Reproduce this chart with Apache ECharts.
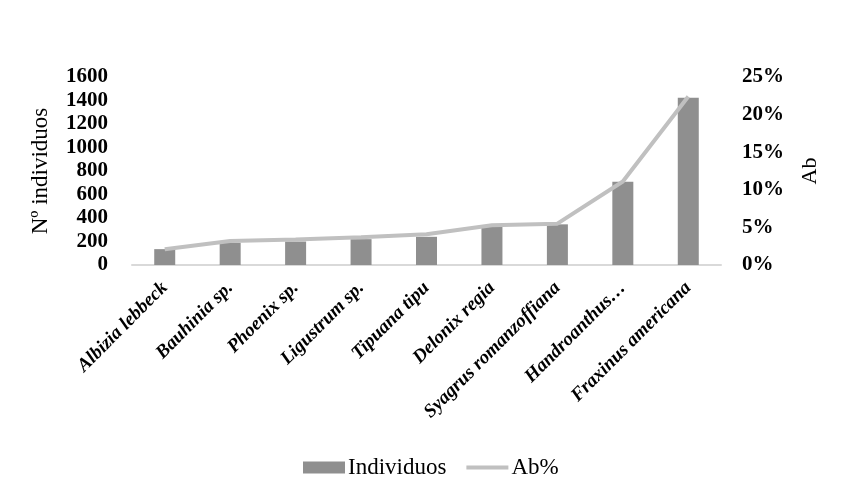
<html>
<head>
    <meta charset="utf-8">
    <title>Individuos</title>
    <script src="https://cdn.jsdelivr.net/npm/echarts@6/dist/echarts.min.js"></script>
</head>
<body style="margin:0;background:#fff;">
    <div id="main" style="width:848px;height:497px;"></div>
    <script type="text/javascript">
        // datos
        var especies = ['Albizia lebbeck', 'Bauhinia sp.', 'Phoenix sp.', 'Ligustrum sp.', 'Tipuana tipu',
            'Delonix regia', 'Syagrus romanzoffiana', 'Handroanthus…', 'Fraxinus americana'];
        var individuos = [135, 190, 200, 220, 240, 326, 346, 709, 1424];
        var abPct = [2.1, 3.2, 3.4, 3.7, 4.1, 5.3, 5.5, 11.1, 22.4];
        var ticksIzq = [0, 200, 400, 600, 800, 1000, 1200, 1400, 1600];

        var fuente = 'Liberation Serif';
        var myChart = echarts.init(document.getElementById('main'));

        var option = {
            animation: false,
            textStyle: { fontFamily: fuente, color: '#000' },
            grid: { left: 132, right: 127, top: 77, bottom: 232 },
            legend: {
                top: 451,
                left: 298,
                itemGap: 20,
                itemWidth: 42,
                itemHeight: 12,
                textStyle: { fontFamily: fuente, fontSize: 23, color: '#000', padding: [0, 0, 0, -2] },
                data: [
                    { name: 'Individuos', icon: 'rect' },
                    { name: 'Ab%', icon: 'path://M0,4 H42 V8 H0 Z M0,0 H0.01 V12 H0 Z' }
                ]
            },
            xAxis: {
                type: 'category',
                data: especies,
                axisLine: { lineStyle: { color: '#d9d9d9', width: 2 } },
                axisTick: { show: false },
                axisLabel: {
                    interval: 0,
                    rotate: 45,
                    margin: 20,
                    fontFamily: fuente,
                    fontSize: 19,
                    fontStyle: 'italic',
                    fontWeight: 'bold',
                    color: '#000'
                }
            },
            yAxis: [
                {
                    type: 'value',
                    min: ticksIzq[0],
                    max: ticksIzq[ticksIzq.length - 1],
                    interval: 200,
                    name: 'Nº individuos',
                    nameLocation: 'middle',
                    nameGap: 80,
                    nameRotate: 90,
                    nameTextStyle: { fontFamily: fuente, fontSize: 23, color: '#000' },
                    splitLine: { show: false },
                    axisLine: { show: false },
                    axisTick: { show: false },
                    axisLabel: {
                        margin: 24,
                        formatter: function (v) { return String(v); },
                        fontFamily: fuente, fontSize: 21, fontWeight: 'bold', color: '#000'
                    }
                },
                {
                    type: 'value',
                    min: 0,
                    max: 25,
                    interval: 5,
                    name: 'Ab',
                    nameLocation: 'middle',
                    nameGap: 78,
                    nameRotate: 90,
                    nameTextStyle: { fontFamily: fuente, fontSize: 22, color: '#000' },
                    splitLine: { show: false },
                    axisLine: { show: false },
                    axisTick: { show: false },
                    axisLabel: {
                        margin: 21,
                        formatter: '{value}%',
                        fontFamily: fuente, fontSize: 21, fontWeight: 'bold', color: '#000'
                    }
                }
            ],
            series: [
                {
                    name: 'Individuos',
                    type: 'bar',
                    data: individuos,
                    barWidth: 21,
                    itemStyle: { color: '#8f8f8f' }
                },
                {
                    name: 'Ab%',
                    type: 'line',
                    yAxisIndex: 1,
                    data: abPct,
                    symbol: 'none',
                    lineStyle: { color: '#c0c0c0', width: 4 },
                    itemStyle: { color: '#c0c0c0' }
                }
            ]
        };

        myChart.setOption(option);
    </script>
</body>
</html>
